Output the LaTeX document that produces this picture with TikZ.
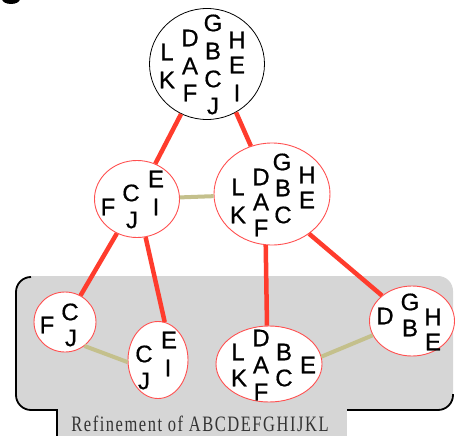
\documentclass[tikz,border=0pt]{standalone}
\usepackage{fontspec}
\newfontfamily\lsans{Liberation Sans}[FakeBold=0.6]
\newfontfamily\lserifc{Liberation Serif}[FakeStretch=0.75, LetterSpace=7]
\usetikzlibrary{shapes.geometric}
\definecolor{redline}{RGB}{255,60,45}
\definecolor{redborder}{RGB}{255,80,80}
\definecolor{olivebar}{RGB}{196,192,140}
\definecolor{panelgray}{RGB}{214,214,214}
\tikzset{
  setnode/.style={ellipse, draw=redborder, line width=0.9pt, fill=white, inner sep=0pt},
  ltr/.style={font=\lsans\fontsize{24}{24}\selectfont, inner sep=0pt},
  refine/.style={draw=redline, line width=4.5pt},
  adj/.style={draw=olivebar, line width=4pt},
  border/.style={draw=black, line width=1.8pt},
}
\begin{document}
\begin{tikzpicture}[x=1pt,y=-1pt]
\useasboundingbox (0,0) rectangle (455,436);
% partial mark at top left
\fill[black] (11,-1) ellipse [x radius=9pt, y radius=5pt];
% panel
\fill[panelgray, rounded corners=15pt] (16,276) rectangle (453,410);
\fill[panelgray] (57,400) rectangle (347,436);
\draw[border] (31,277) [rounded corners=15pt] -- (16,277) -- (16,410) -- (40,410);
\draw[border] (35,410) -- (57,410) -- (57,436);
\draw[border] (347,410) [rounded corners=15pt] -- (453,410) -- (453,394);
\node[font=\lserifc\fontsize{22}{22}\selectfont, text=black!80, inner sep=0pt] (cap) at (200,424) {Refinement of ABCDEFGHIJKL};
% sets
\node[ellipse, draw=black, line width=0.8pt, fill=white, inner sep=0pt, minimum width=115pt, minimum height=111pt] (top) at (207,64) {};
\node[setnode, minimum width=85pt, minimum height=77pt] (ml) at (137,199) {};
\node[setnode, minimum width=116pt, minimum height=102pt] (mr) at (272,194) {};
\node[setnode, minimum width=62pt, minimum height=60pt] (fcj) at (65,322) {};
\node[setnode, minimum width=60pt, minimum height=77pt] (cjei) at (158,360) {};
\node[setnode, minimum width=106pt, minimum height=76pt] (ld) at (269,364) {};
\node[setnode, minimum width=85pt, minimum height=70pt] (dg) at (412,321) {};
% connectors
\draw[refine] (top) -- (ml);
\draw[refine] (top.-59) -- (mr);
\draw[refine] (ml) -- (fcj);
\draw[refine] (ml) -- (cjei.80);
\draw[refine] (mr.-97) -- (ld.93);
\draw[refine] (mr.-47) -- (dg);
\draw[adj] (ml) -- (mr);
\draw[adj] (fcj.-51) -- (cjei.184);
\draw[adj] (ld.8) -- (dg.200);
% letters: top
\node[ltr] (tG) at (213,23) {G};
\node[ltr] (tD) at (190,38) {D};
\node[ltr] (tH) at (237,40) {H};
\node[ltr] (tL) at (167,52) {L};
\node[ltr] (tB) at (213,51) {B};
\node[ltr] (tA) at (190,66) {A};
\node[ltr] (tE) at (237,65) {E};
\node[ltr] (tK) at (167,80) {K};
\node[ltr] (tC) at (213,79) {C};
\node[ltr] (tF) at (190,93) {F};
\node[ltr] (tI) at (237,93) {I};
\node[ltr] (tJ) at (213,106) {J};
% middle right
\node[ltr] (rG) at (282,162) {G};
\node[ltr] (rD) at (261,177) {D};
\node[ltr] (rH) at (307,175) {H};
\node[ltr] (rL) at (238,187) {L};
\node[ltr] (rB) at (283,188) {B};
\node[ltr] (rA) at (261,202) {A};
\node[ltr] (rE) at (307,200) {E};
\node[ltr] (rK) at (238,215) {K};
\node[ltr] (rC) at (283,215) {C};
\node[ltr] (rF) at (261,228) {F};
% middle left
\node[ltr] (lE) at (156,179) {E};
\node[ltr] (lC) at (131,193) {C};
\node[ltr] (lF) at (108,207) {F};
\node[ltr] (lI) at (156,207) {I};
\node[ltr] (lJ) at (132,220) {J};
% FCJ
\node[ltr] (aC) at (70,312) {C};
\node[ltr] (aF) at (47,325) {F};
\node[ltr] (aJ) at (71,338) {J};
% CJEI
\node[ltr] (bE) at (169,340) {E};
\node[ltr] (bC) at (144,354) {C};
\node[ltr] (bI) at (168,368) {I};
\node[ltr] (bJ) at (144,381) {J};
% LDAKFBCE
\node[ltr] (cD) at (261,338) {D};
\node[ltr] (cL) at (238,352) {L};
\node[ltr] (cB) at (284,352) {B};
\node[ltr] (cA) at (261,365) {A};
\node[ltr] (cE) at (308,365) {E};
\node[ltr] (cK) at (239,378) {K};
\node[ltr] (cC) at (284,378) {C};
\node[ltr] (cF) at (261,392) {F};
% DGBHE
\node[ltr] (dG) at (410,302) {G};
\node[ltr] (dD) at (385,316) {D};
\node[ltr] (dH) at (433,317) {H};
\node[ltr] (dB) at (410,328) {B};
\node[ltr] (dE) at (433,342) {E};
\end{tikzpicture}
\end{document}
